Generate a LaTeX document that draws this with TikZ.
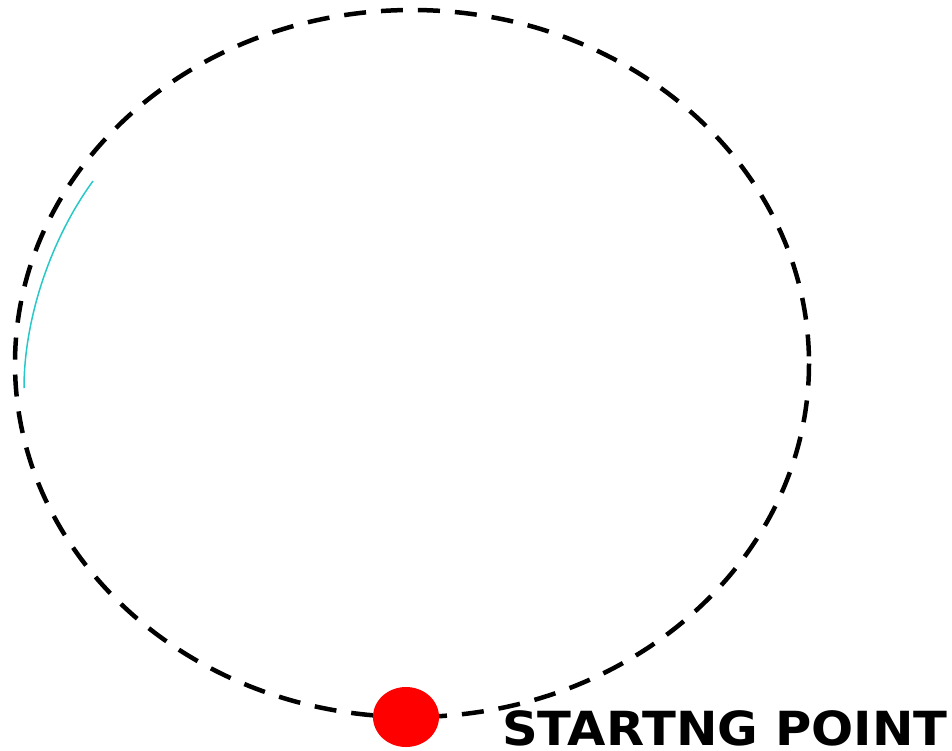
\documentclass[tikz,border=0pt]{standalone}
\usepackage{fontspec}
\newfontfamily\labelfont{DejaVu Sans}
\tikzset{
  orbit/.style={line width=4.5pt, dash pattern=on 22pt off 15pt},
  trail/.style={draw={rgb,255:red,40;green,200;blue,200}, line width=1.5pt},
  startdot/.style={ellipse, fill=red, minimum width=66pt, minimum height=60pt, inner sep=0pt},
  lbl/.style={font=\labelfont\bfseries\fontsize{47}{47}\selectfont, inner sep=0pt, anchor=base west}
}
\usetikzlibrary{shapes.geometric}
\begin{document}
\begin{tikzpicture}[x=1pt,y=-1pt]
\useasboundingbox (0,0) rectangle (952,750);
\draw[orbit] (412,363.5) ellipse [x radius=397, y radius=353.5];
\coordinate (ta) at (93,181);
\coordinate (tb) at (24,388);
\draw[trail] (ta) .. controls (50,240) and (24,320) .. (tb);
\node[startdot] (dot) at (406,717) {};
\node[lbl] (start) at (502,745) {\scalebox{1.055}[1]{STARTNG POINT}};
\end{tikzpicture}
\end{document}
